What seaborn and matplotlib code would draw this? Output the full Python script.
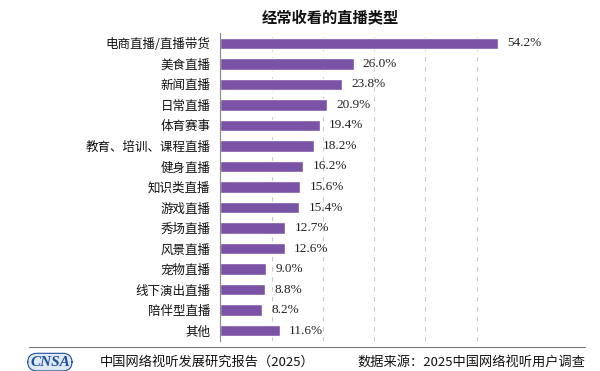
import numpy as np
import pandas as pd
import matplotlib
matplotlib.use('Agg')
import matplotlib.pyplot as plt
import seaborn as sns

# dati
categorie = ['电商直播/直播带货', '美食直播', '新闻直播', '日常直播', '体育赛事',
             '教育、培训、课程直播', '健身直播', '知识类直播', '游戏直播', '秀场直播',
             '风景直播', '宠物直播', '线下演出直播', '陪伴型直播', '其他']
valori = [54.2, 26.0, 23.8, 20.9, 19.4, 18.2, 16.2, 15.6, 15.4, 12.7, 12.6, 9.0, 8.8, 8.2, 11.6]
griglia_x = [10, 20, 30, 40, 50, 60]

df = pd.DataFrame({'tipo': categorie, 'quota': valori})

sns.set_theme(style='white')
plt.rcParams['font.family'] = ['Noto Sans CJK SC', 'DejaVu Sans']

fig = plt.figure(figsize=(6, 3.71), dpi=100)
ax = fig.add_axes([0.367, 0.081, 0.513, 0.83])

sns.barplot(data=df, y='tipo', x='quota', color='#7B53A6', saturation=1,
            width=0.56, ax=ax, orient='h')

for i, v in enumerate(valori):
    ax.text(v + 1.8, i, f'{v:.1f}%', va='center', ha='left', fontsize=9.5,
            family='Liberation Serif', color='#222222')

ax.set_xlim(0, 60)
ax.set_ylim(len(categorie) - 0.5, -0.5)
ax.set_xticks(griglia_x)
ax.set_xticklabels([])
ax.tick_params(axis='x', length=0)
ax.xaxis.grid(True, linestyle=(0, (4, 5)), color='#cccccc', linewidth=0.8)
ax.set_axisbelow(True)
ax.set_xlabel('')
ax.set_ylabel('')
ax.tick_params(axis='y', length=0, labelsize=9, pad=7, colors='#111111')
ax.set_yticks(np.arange(len(categorie) + 1) - 0.5, minor=True)
ax.tick_params(axis='y', which='minor', length=3, color='#888888', width=0.8)
for s in ['top', 'right', 'bottom']:
    ax.spines[s].set_visible(False)
ax.spines['left'].set_color('#888888')
ax.spines['left'].set_linewidth(0.8)

fig.text(0.55, 0.953, '经常收看的直播类型', ha='center', va='center',
         fontsize=11, fontweight='bold', color='#111111')

# piè di pagina
fig.add_artist(plt.Line2D([0.048, 0.975], [0.065, 0.065], color='#777777', linewidth=0.8))
fig.text(0.05, 0.024, 'CNSA', fontsize=11, fontweight='bold', style='italic',
         color='#1b4f9c', family='Liberation Serif', va='center', ha='left',
         bbox=dict(boxstyle='round,pad=0.15,rounding_size=0.6', facecolor='#dfe8f5',
                   edgecolor='#1b4f9c', linewidth=0.8))
fig.text(0.167, 0.024, '中国网络视听发展研究报告（2025）', fontsize=9.5, va='center',
         ha='left', color='#111111')
fig.text(0.975, 0.024, '数据来源：2025中国网络视听用户调查', fontsize=9.5, va='center',
         ha='right', color='#111111')

fig.savefig('out.png', dpi=100)
